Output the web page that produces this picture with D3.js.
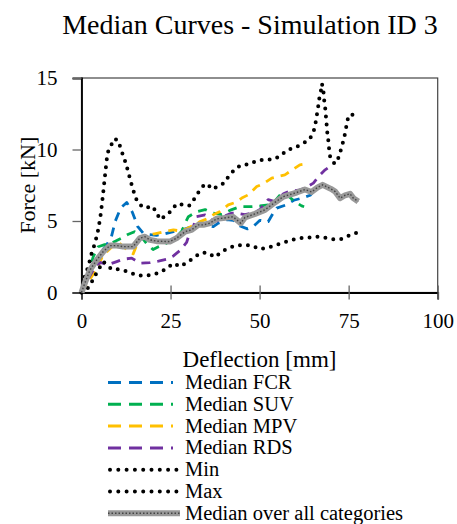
<!DOCTYPE html>
<html>
<head>
<meta charset="utf-8">
<script src="https://cdn.jsdelivr.net/npm/d3@7"></script>
<style>
  html, body { margin: 0; padding: 0; background: #fff; }
  svg text { font-family: "Liberation Serif", "Times New Roman", serif !important; fill: #000; }
</style>
</head>
<body>
<svg id="chart" width="457" height="524"></svg>
<script>
// ---------- data ----------
const title = "Median Curves - Simulation ID 3";
const xLabel = "Deflection [mm]";
const yLabel = "Force [kN]";
const xTicks = [0, 25, 50, 75, 100];
const yTicks = [0, 5, 10, 15];

const fcrX = [0, 2.5, 5, 7, 8.4, 9.5, 11, 12.7, 14.3, 15.8, 17.3, 19.1, 21.1, 23.4, 25.8, 28.6, 30.9, 32.8, 35.1, 37, 38.4, 40.8, 42.6, 44.5, 46.6, 48.2, 50.1, 52.4, 53.8, 54.8, 57.7, 59.6, 61.9, 64.2, 66, 67.4];
const fcrY = [0, 1.5, 2.7, 3.3, 3.9, 5.0, 5.9, 6.3, 5.6, 4.6, 4.15, 4.05, 4.0, 4.1, 4.25, 4.4, 4.6, 4.8, 4.7, 4.6, 4.85, 5.1, 5.05, 4.65, 4.45, 4.6, 5.05, 4.95, 5.55, 5.9, 6.15, 6.45, 6.6, 6.8, 7.3, 7.5];

const suvX = [0, 2, 3.3, 4.7, 6.5, 8.4, 11.2, 13, 14.9, 16.3, 18.2, 20.1, 21.6, 23.9, 26.7, 28.2, 29.1, 30, 32.3, 34.7, 37, 39.4, 42.2, 44.5, 47.3, 50.1, 53.4, 55.7, 57.1, 59.9, 61.8, 62.5];
const suvY = [0, 1.4, 2.5, 3.2, 3.35, 3.45, 3.8, 4.05, 4.25, 4.05, 3.45, 3.0, 3.2, 3.45, 3.9, 4.3, 4.85, 5.3, 5.65, 5.8, 5.55, 5.45, 5.8, 6.0, 6.0, 6.05, 6.15, 6.8, 6.95, 6.36, 6.06, 6.0];

const mpvX = [0, 1.5, 3.2, 4.2, 6, 8.8, 10.7, 12.7, 14.5, 16.3, 18.5, 20.5, 23.4, 25.8, 27.7, 29.5, 31.5, 33.3, 35.1, 37, 38.9, 41.2, 43.1, 45, 46.8, 49.2, 51, 53.4, 55.2, 57.1, 58.5, 61.3, 62.7];
const mpvY = [0, 0.6, 1.25, 1.6, 2.6, 3.25, 3.45, 3.0, 2.7, 3.8, 4.0, 4.1, 4.26, 4.38, 4.3, 4.45, 4.7, 4.96, 5.13, 5.43, 5.66, 6.13, 6.29, 6.6, 6.83, 7.41, 7.6, 8.0, 8.12, 8.23, 8.46, 8.93, 8.98];

const rdsX = [0, 2, 4, 5.4, 7.3, 9.9, 11.7, 14.1, 16.4, 19.2, 21.6, 23.9, 25.8, 27.7, 29.5, 30.5, 31.4, 32.3, 34.7, 36.5, 38, 39.8, 42.2, 43.6, 45.9, 48.7, 50.1, 52.4, 54.3, 56.7, 58.1, 60.9, 62.7, 65.1, 66.5, 68.4, 69.8, 70.5];
const rdsY = [0, 1.0, 1.9, 2.1, 1.93, 2.16, 2.33, 2.4, 2.05, 2.09, 2.2, 2.33, 2.56, 2.95, 3.5, 4.26, 4.61, 5.31, 5.43, 5.1, 5.0, 5.31, 5.55, 5.55, 5.45, 5.6, 5.8, 6.5, 6.36, 6.9, 7.06, 7.15, 7.28, 7.65, 8.1, 8.58, 8.82, 9.0];

const minX = [0, 1.5, 3, 4.5, 6.1, 8.5, 10.8, 13.1, 15.3, 17.5, 19.8, 22, 23.9, 25.8, 27.7, 29.5, 31.4, 33.3, 35.3, 37.5, 39.4, 41.2, 43.3, 45.4, 47.8, 50, 52.4, 54.6, 56.7, 59, 61.3, 63.7, 65.8, 68.1, 70.4, 72.8, 74.9, 77.3];
const minY = [0, 0.2, 0.8, 1.5, 2.16, 1.62, 1.62, 1.46, 1.23, 1.16, 1.23, 1.39, 1.69, 2.04, 1.81, 2.09, 2.4, 2.75, 2.79, 2.47, 2.86, 3.1, 3.28, 3.33, 3.28, 3.03, 3.14, 3.33, 3.49, 3.68, 3.8, 3.84, 3.91, 3.84, 3.73, 3.73, 3.96, 4.19];

const maxX = [0, 1, 1.9, 2.9, 3.8, 4.7, 5.3, 5.75, 6.1, 6.5, 7.0, 7.3, 8.2, 9.3, 10.4, 11.0, 11.9, 12.6, 13.2, 13.8, 14.5, 15.1, 16.3, 17.9, 19.8, 21, 22, 23.6, 25, 26.7, 28.6, 30.2, 31.6, 32.8, 34.2, 35.4, 36.5, 37.9, 40, 41.5, 43.4, 45.1, 46.8, 49.6, 52, 54.3, 56.2, 57.9, 59.7, 62, 64, 65.1, 65.6, 66, 66.4, 66.7, 67.2, 67.5, 67.9, 68.1, 68.4, 68.6, 68.8, 69, 69.3, 69.5, 69.8, 70.3, 71.2, 72.4, 72.9, 73.6, 74.1, 74.5, 75, 76.9, 77.5];
const maxY = [0, 1.2, 1.8, 2.8, 3.45, 4.4, 5.3, 6.2, 7.0, 7.95, 9.1, 9.75, 10.25, 10.76, 10.6, 10.05, 9.45, 8.9, 8.35, 7.77, 7.2, 6.65, 6.15, 5.9, 6.05, 5.65, 5.1, 5.36, 5.66, 6.2, 6.13, 6.06, 6.53, 7.0, 7.46, 7.6, 7.23, 7.37, 7.65, 8.2, 8.7, 8.93, 8.95, 9.24, 9.29, 9.33, 9.64, 9.99, 10.1, 10.4, 10.7, 11.2, 11.7, 12.3, 12.9, 13.5, 14.07, 14.6, 14.14, 13.5, 12.95, 12.37, 11.8, 11.2, 10.6, 10.06, 9.5, 9.19, 9.0, 9.54, 10.08, 10.67, 11.25, 11.83, 12.4, 12.46, 12.45];

const allX = [0, 1, 2.4, 4.3, 6.1, 8, 9.9, 11.7, 14.5, 16.4, 17.8, 19.2, 21.1, 24.8, 26.7, 29.1, 30.9, 32.8, 34.2, 36.1, 37.9, 39.8, 42.5, 44.7, 45.9, 48.7, 51.5, 54.3, 56.7, 58.5, 60.4, 62.7, 64.6, 66.3, 67.7, 70, 71.2, 72.6, 74, 75.4, 76.3, 77.7];
const allY = [0, 0.7, 1.58, 2.28, 2.86, 3.28, 3.28, 3.21, 3.21, 3.8, 3.9, 3.68, 3.59, 3.56, 3.8, 4.26, 4.38, 4.73, 4.73, 4.85, 5.15, 5.2, 5.3, 4.85, 5.25, 5.5, 5.78, 6.3, 6.71, 6.85, 6.99, 7.2, 7.03, 7.35, 7.53, 7.25, 7.06, 6.6, 6.8, 6.9, 6.6, 6.36];

const seriesNames = ["Median FCR", "Median SUV", "Median MPV", "Median RDS", "Min", "Max", "Median over all categories"];
const seriesColors = ["#0070C0", "#00B050", "#FFC000", "#7030A0", "#000000", "#000000", "#999999"];
const seriesKinds = ["dash", "dash", "dash", "dash", "dot", "dot", "gray"];
const seriesXs = [fcrX, suvX, mpvX, rdsX, minX, maxX, allX];
const seriesYs = [fcrY, suvY, mpvY, rdsY, minY, maxY, allY];

// ---------- layout ----------
const svg = d3.select("#chart");
const x = d3.scaleLinear().domain([0, 100]).range([81.5, 437.7]);
const y = d3.scaleLinear().domain([0, 15]).range([292.5, 78]);
const FONT = "'Liberation Serif', 'Times New Roman', serif";

// frame (top/right)
svg.append("rect")
  .attr("x", x(0)).attr("y", y(15))
  .attr("width", x(100) - x(0)).attr("height", y(0) - y(15))
  .attr("fill", "none").attr("stroke", "#444").attr("stroke-width", 1.2);

// y axis
const yAxis = d3.axisLeft(y).tickValues(yTicks).tickSize(9).tickPadding(15).tickFormat(d3.format("d"));
const gy = svg.append("g").attr("transform", `translate(${x(0)},0)`).attr("font-family", null).call(yAxis);
gy.attr("font-family", null);
gy.select(".domain").attr("stroke", "#000").attr("stroke-width", 1.8);
gy.selectAll(".tick line").attr("stroke", "#666").attr("stroke-width", 1.3);
gy.selectAll(".tick text").style("font-size", "21px").style("font-family", FONT).attr("fill", "#000");

// x axis (ticks crossing the axis)
const xAxis = d3.axisBottom(x).tickValues(xTicks).tickSize(7).tickPadding(14).tickFormat(d3.format("d"));
const gx = svg.append("g").attr("transform", `translate(0,${y(0)})`).call(xAxis);
gx.attr("font-family", null);
gx.select(".domain").attr("stroke", "#000").attr("stroke-width", 1.8);
gx.selectAll(".tick line").attr("y1", -7).attr("stroke", "#666").attr("stroke-width", 1.3);
gx.selectAll(".tick text").style("font-size", "21px").style("font-family", FONT).attr("fill", "#000");

// ---------- series ----------
const line = d3.line().x(d => x(d[0])).y(d => y(d[1]));
const plot = svg.append("g");
seriesNames.forEach((name, i) => {
  const pts = seriesXs[i].map((v, j) => [v, seriesYs[i][j]]);
  const kind = seriesKinds[i];
  if (kind === "dash") {
    plot.append("path").attr("d", line(pts)).attr("fill", "none")
      .attr("stroke", seriesColors[i]).attr("stroke-width", 2.8)
      .attr("stroke-dasharray", "9,7").attr("stroke-linejoin", "round");
  } else if (kind === "dot") {
    plot.append("path").attr("d", line(pts)).attr("fill", "none")
      .attr("stroke", seriesColors[i]).attr("stroke-width", 4)
      .attr("stroke-linecap", "round").attr("stroke-dasharray", "0,8");
  } else {
    plot.append("path").attr("d", line(pts)).attr("fill", "none")
      .attr("stroke", seriesColors[i]).attr("stroke-width", 6).attr("stroke-linejoin", "round");
    plot.append("path").attr("d", line(pts)).attr("fill", "none")
      .attr("stroke", "#444").attr("stroke-width", 1.4)
      .attr("stroke-dasharray", "1.5,2");
  }
});

// ---------- texts ----------
svg.append("text").attr("x", 250).attr("y", 34).attr("text-anchor", "middle")
  .style("font-size", "28px").text(title);
svg.append("text").attr("x", 259.5).attr("y", 366.5).attr("text-anchor", "middle")
  .style("font-size", "23px").text(xLabel);
svg.append("text").attr("transform", `translate(35,${(y(0) + y(15)) / 2}) rotate(-90)`)
  .attr("text-anchor", "middle").style("font-size", "22px").text(yLabel);

// ---------- legend ----------
const legend = svg.append("g");
seriesNames.forEach((name, i) => {
  const by = 389 + i * 21.8;
  const ly = by - 6.5;
  const kind = seriesKinds[i];
  if (kind === "dash") {
    legend.append("line").attr("x1", 108).attr("x2", 173).attr("y1", ly).attr("y2", ly)
      .attr("stroke", seriesColors[i]).attr("stroke-width", 3).attr("stroke-dasharray", "13,8");
  } else if (kind === "dot") {
    legend.append("line").attr("x1", 110).attr("x2", 177).attr("y1", ly).attr("y2", ly)
      .attr("stroke", seriesColors[i]).attr("stroke-width", 4)
      .attr("stroke-linecap", "round").attr("stroke-dasharray", "0,8.3");
  } else {
    legend.append("line").attr("x1", 108).attr("x2", 180).attr("y1", ly).attr("y2", ly)
      .attr("stroke", seriesColors[i]).attr("stroke-width", 6);
    legend.append("line").attr("x1", 108).attr("x2", 180).attr("y1", ly).attr("y2", ly)
      .attr("stroke", "#444").attr("stroke-width", 1.4).attr("stroke-dasharray", "1.5,2");
  }
  legend.append("text").attr("x", 185).attr("y", by).style("font-size", "20.5px").text(name);
});
</script>
</body>
</html>
